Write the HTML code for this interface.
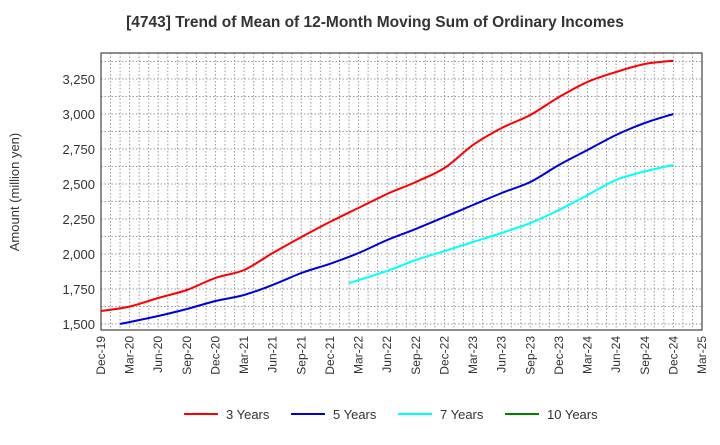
<!DOCTYPE html>
<html><head><meta charset="utf-8"><style>
body{margin:0;background:#fff;font-family:"Liberation Sans",sans-serif;}
svg text{font-family:"Liberation Sans",sans-serif;}
</style></head><body>
<svg id="chart" width="720" height="440" xmlns="http://www.w3.org/2000/svg">
<text x="375" y="27" text-anchor="middle" font-size="15.5" font-weight="bold" fill="#333">[4743]  Trend of Mean of 12-Month Moving Sum of Ordinary Incomes</text>
<text transform="translate(19,192) rotate(-90)" text-anchor="middle" font-size="13" fill="#333">Amount (million yen)</text>
<g id="grid"></g><g id="axes"></g><g id="series"></g><g id="legend"></g>
</svg>
<script>
const xLabels=["Dec-19","Mar-20","Jun-20","Sep-20","Dec-20","Mar-21","Jun-21","Sep-21","Dec-21","Mar-22","Jun-22","Sep-22","Dec-22","Mar-23","Jun-23","Sep-23","Dec-23","Mar-24","Jun-24","Sep-24","Dec-24","Mar-25"];
const yTicks=[1500,1750,2000,2250,2500,2750,3000,3250];
// months since Dec-19 for each point
const m3=[0,3,6,9,12,15,18,21,24,27,30,33,36,39,42,45,48,51,54,57,60];
const s3=[1593,1624,1686,1743,1829,1886,2007,2121,2229,2329,2429,2514,2614,2779,2900,2993,3121,3229,3300,3357,3381];
const m5=[2,6,9,12,15,18,21,24,27,30,33,36,39,42,45,48,51,54,57,60];
const s5=[1500,1557,1607,1664,1707,1779,1864,1930,2007,2100,2179,2264,2350,2436,2514,2636,2743,2850,2936,3000];
const m7=[26,30,33,36,39,42,45,48,51,54,57,60];
const s7=[1792,1879,1957,2021,2086,2150,2221,2314,2421,2529,2590,2636];
const m10=[];
const s10=[];
const L=101,R=702,T=53,B=330;
const NS="http://www.w3.org/2000/svg";
const xq=i=>L+i*(R-L)/21;
const xm=m=>L+m*(R-L)/63;
const y=v=>324-(v-1500)*35/250;
function mk(tag,attrs,parent){const e=document.createElementNS(NS,tag);for(const k in attrs)e.setAttribute(k,attrs[k]);parent.appendChild(e);return e;}
const grid=document.getElementById('grid'),axes=document.getElementById('axes'),ser=document.getElementById('series'),leg=document.getElementById('legend');
for(let m=1;m<63;m++){const l=mk('line',{x1:xm(m),x2:xm(m),y1:T,y2:B,stroke:'#999','stroke-dasharray':'1.5,2','stroke-width':1},grid);

}
for(let v=1500;v<=3375;v+=125){const l=mk('line',{x1:L,x2:R,y1:y(v),y2:y(v),stroke:'#999','stroke-dasharray':'1.5,2','stroke-width':1},grid);

}
const fr=mk('rect',{x:L,y:T,width:R-L,height:B-T,fill:'none',stroke:'#444','stroke-width':1.2},axes);


yTicks.forEach(v=>{const t=mk('text',{x:L-6,y:y(v)+5,'text-anchor':'end','font-size':13,fill:'#333'},axes);t.textContent=v.toLocaleString('en-US');

});
xLabels.forEach((s,i)=>{const t=mk('text',{transform:`translate(${xq(i)+4},${B+6}) rotate(-90)`,'text-anchor':'end','font-size':12,fill:'#333'},axes);t.textContent=s;

});
function line(ms,data,color,name){
const p=data.map((v,i)=>[xm(ms[i]),y(v)]);
if(p.length<2)return;
let d='M'+p[0][0].toFixed(1)+','+p[0][1].toFixed(1);
for(let i=0;i<p.length-1;i++){const p0=p[i-1]||p[i],p1=p[i],p2=p[i+1],p3=p[i+2]||p2;
const c1=[p1[0]+(p2[0]-p0[0])/6,p1[1]+(p2[1]-p0[1])/6],c2=[p2[0]-(p3[0]-p1[0])/6,p2[1]-(p3[1]-p1[1])/6];
d+=`C${c1[0].toFixed(1)},${c1[1].toFixed(1)} ${c2[0].toFixed(1)},${c2[1].toFixed(1)} ${p2[0].toFixed(1)},${p2[1].toFixed(1)}`;}
const e=mk('path',{d:d,fill:'none',stroke:color,'stroke-width':2,'stroke-linejoin':'round'},ser);

}
line(m3,s3,'#ff0000','line-3-years');line(m5,s5,'#0000dd','line-5-years');line(m7,s7,'#00ffff','line-7-years');line(m10,s10,'#008000','line-10-years');
[['3 Years','#ff0000',184],['5 Years','#0000dd',291],['7 Years','#00ffff',398],['10 Years','#008000',505]].forEach(([lab,c,x])=>{
const g=mk('g',{},leg);


mk('line',{x1:x,x2:x+34,y1:414,y2:414,stroke:c,'stroke-width':2},g);
const t=mk('text',{x:x+42,y:419,'font-size':13,fill:'#333'},g);t.textContent=lab;});
</script>
</body></html>
